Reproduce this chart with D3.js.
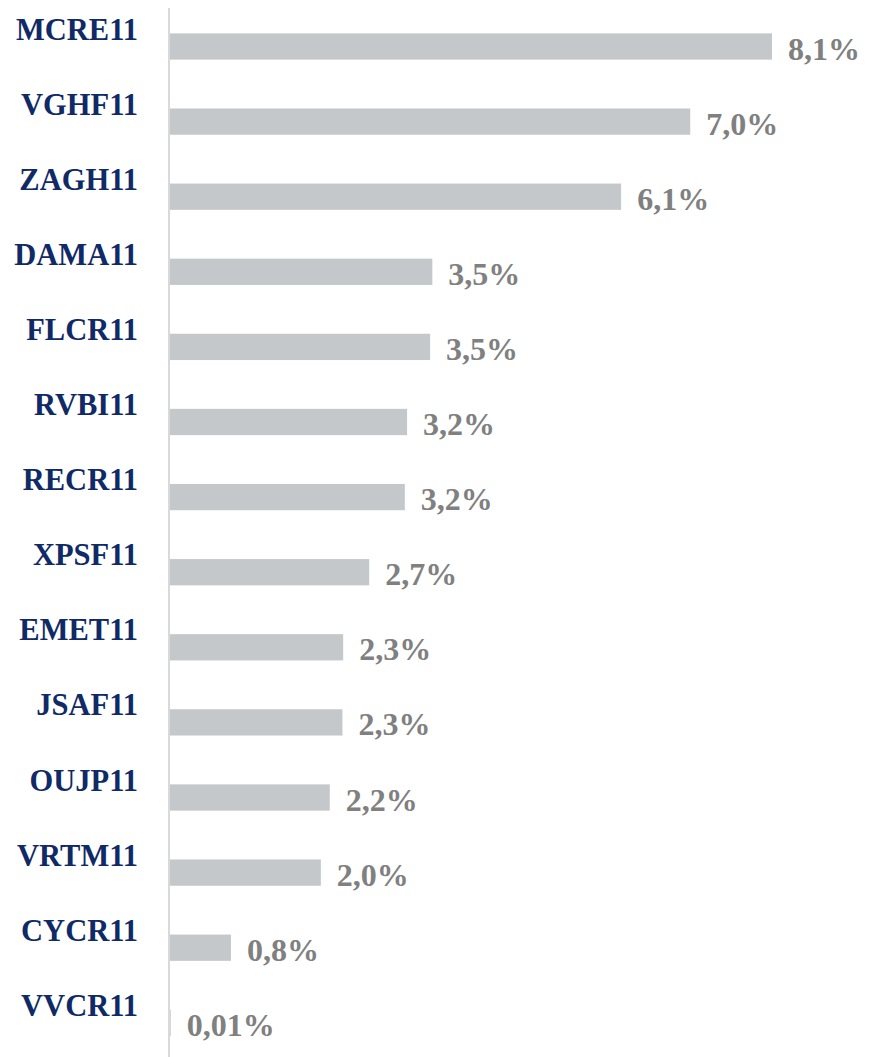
<!DOCTYPE html>
<html>
<head>
<meta charset="utf-8">
<script src="https://cdn.jsdelivr.net/npm/d3@7"></script>
<style>
  body { margin: 0; background: #fff; }
  svg { display: block; }
  .cat { font-family: "Liberation Serif", serif; font-weight: bold; font-size: 30.5px; fill: #0f2a66; }
  .val { font-family: "Liberation Serif", serif; font-weight: bold; font-size: 32px; fill: #808080; }
</style>
</head>
<body>
<svg id="chart" width="870" height="1057"></svg>
<script>
// tickers, top to bottom
var tickers = ["MCRE11", "VGHF11", "ZAGH11", "DAMA11", "FLCR11", "RVBI11", "RECR11",
               "XPSF11", "EMET11", "JSAF11", "OUJP11", "VRTM11", "CYCR11", "VVCR11"];
// share in %
var shares = [8.1, 7.0, 6.07, 3.53, 3.5, 3.19, 3.16, 2.68, 2.33, 2.32, 2.15, 2.03, 0.82, 0.01];
// printed labels
var shareLabels = ["8,1%", "7,0%", "6,1%", "3,5%", "3,5%", "3,2%", "3,2%",
                   "2,7%", "2,3%", "2,3%", "2,2%", "2,0%", "0,8%", "0,01%"];

var svg = d3.select("#chart"),
    x0 = 170;

var data = tickers.map(function(t, i) {
  return { name: t, value: shares[i], label: shareLabels[i] };
});

var x = d3.scaleLinear()
  .domain([0, 8.1])
  .range([x0, 772]);

var y = d3.scaleBand()
  .domain(tickers)
  .range([8.95, 8.95 + 75.1 * tickers.length])
  .paddingInner(0.65)
  .paddingOuter(0.325);

var bw = y.bandwidth();

// bars
svg.append("g").selectAll("rect")
  .data(data)
  .enter().append("rect")
  .attr("x", x(0))
  .attr("y", d => y(d.name))
  .attr("width", d => Math.max(0, x(d.value) - x(0)))
  .attr("height", bw)
  .attr("fill", "#c5c8cb");

// vertical axis line
svg.append("line")
  .attr("x1", x0 - 1).attr("x2", x0 - 1)
  .attr("y1", 8).attr("y2", 1057)
  .attr("stroke", "#d9d9d9")
  .attr("stroke-width", 2);

// category labels (sit a bit above the bar)
svg.append("g").selectAll("text")
  .data(data)
  .enter().append("text")
  .attr("class", "cat")
  .attr("x", 138)
  .attr("y", d => y(d.name) + bw / 2 - 7)
  .attr("text-anchor", "end")
  .text(d => d.name);

// value labels
svg.append("g").selectAll("text")
  .data(data)
  .enter().append("text")
  .attr("class", "val")
  .attr("x", d => x(d.value) + 16)
  .attr("y", d => y(d.name) + bw / 2 + 13)
  .text(d => d.label);
</script>
</body>
</html>
